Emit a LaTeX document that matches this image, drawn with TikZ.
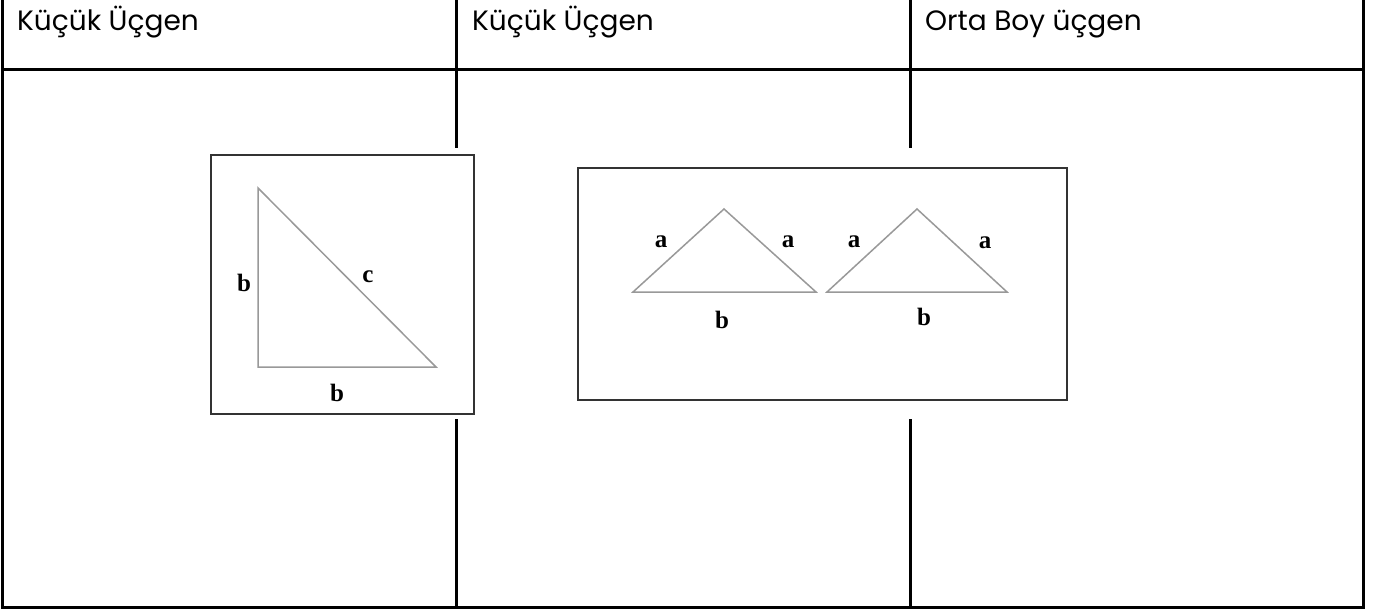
\documentclass[tikz,border=0pt]{standalone}
\usepackage{fontspec}
\newfontfamily\headfont{Poppins}
\newfontfamily\labelfont{Liberation Serif}
\usepackage{tikz}

\begin{document}
\begin{tikzpicture}[x=1pt,y=-1pt,
    rule/.style={line width=3pt},
    frame/.style={draw=black!80,line width=2pt},
    side/.style={draw=black!40,line width=1.5pt,line join=miter},
    head/.style={anchor=base west,inner sep=0pt,font=\headfont\fontsize{28}{32}\selectfont},
    lbl/.style={inner sep=0pt,font=\labelfont\bfseries\fontsize{25}{28}\selectfont}]

    \useasboundingbox (0,0) rectangle (1379,610);

    \draw[rule] (2,-2) -- (2,607) -- (1363,607) -- (1363,-2);
    \draw[rule] (2,70) -- (1363,70);
    \draw[rule] (456,-2) -- (456,607);
    \draw[rule] (910,-2) -- (910,607);

    \node[head] (h1) at (17,31)  {Küçük Üçgen};
    \node[head] (h2) at (472,31) {Küçük Üçgen};
    \node[head] (h3) at (925,31) {Orta Boy üçgen};

    \fill[white] (205,148) rectangle (482,419);
    \fill[white] (560,148) rectangle (1085,419);

    \draw[frame] (211,155) rectangle (474,414);
    \draw[frame] (578,168) rectangle (1067,400);

    \coordinate (r1) at (258,188);
    \coordinate (r2) at (258,367);
    \coordinate (r3) at (436,367);
    \draw[side] (r1) -- (r2) -- (r3) -- cycle;
    \node[lbl] (rb1) at (244,283) {b};
    \node[lbl] (rc)  at (368,277) {c};
    \node[lbl] (rb2) at (337,393) {b};

    \coordinate (p1) at (724,209);
    \coordinate (p2) at (633,292);
    \coordinate (p3) at (816,292);
    \draw[side] (p1) -- (p2) -- (p3) -- cycle;
    \node[lbl] (pa1) at (661,242) {a};
    \node[lbl] (pa2) at (788,242) {a};
    \node[lbl] (pb)  at (722,320) {b};

    \coordinate (q1) at (917,209);
    \coordinate (q2) at (827,292);
    \coordinate (q3) at (1007,292);
    \draw[side] (q1) -- (q2) -- (q3) -- cycle;
    \node[lbl] (qa1) at (854,242) {a};
    \node[lbl] (qa2) at (985,243) {a};
    \node[lbl] (qb)  at (924,317) {b};

\end{tikzpicture}
\end{document}
